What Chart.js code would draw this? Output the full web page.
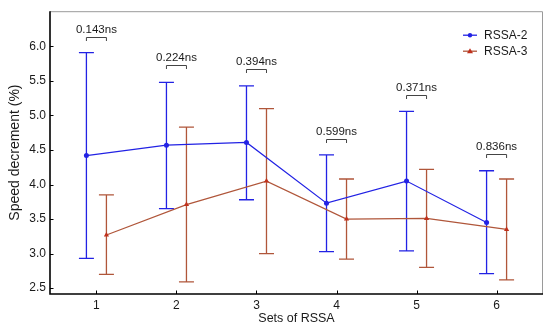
<!DOCTYPE html>
<html>
<head>
<meta charset="utf-8">
<script src="https://cdn.jsdelivr.net/npm/chart.js@4/dist/chart.umd.min.js"></script>
<style>
  html, body { margin: 0; padding: 0; background: #fff; }
  #wrap { width: 550px; height: 330px; }
</style>
</head>
<body>
<div id="wrap"><canvas id="speedChart" width="550" height="330"></canvas></div>
<script>
// data
let sets = [1, 2, 3, 4, 5, 6];
let rssa2Mean = [4.42, 4.57, 4.61, 3.73, 4.05, 3.45];
let rssa2Upper = [5.91, 5.48, 5.43, 4.43, 5.06, 4.20];
let rssa2Lower = [2.93, 3.65, 3.78, 3.03, 3.04, 2.71];
let rssa3Mean = [3.27, 3.71, 4.05, 3.50, 3.51, 3.35];
let rssa3Upper = [3.85, 4.83, 5.10, 4.08, 4.22, 4.08];
let rssa3Lower = [2.70, 2.59, 3.00, 2.92, 2.80, 2.62];
let pLabels = ["0.143ns", "0.224ns", "0.394ns", "0.599ns", "0.371ns", "0.836ns"];
let bracketY = [6.14, 5.73, 5.67, 4.66, 5.29, 4.44];
let yTicks = [2.5, 3.0, 3.5, 4.0, 4.5, 5.0, 5.5, 6.0];
let xTicks = [1, 2, 3, 4, 5, 6];

const shift = 0.125;
const blue = "#2222e4";
const brown = "#b0563a";
const brownMark = "#c0301c";
const textColor = "#1a1a1a";
const fontFam = "'Liberation Sans', Arial, sans-serif";

let ds2 = sets.map((s, i) => ({ x: s - shift, y: rssa2Mean[i], hi: rssa2Upper[i], lo: rssa2Lower[i] }));
let ds3 = sets.map((s, i) => ({ x: s + shift, y: rssa3Mean[i], hi: rssa3Upper[i], lo: rssa3Lower[i] }));

// error bars, under the lines
const errorBars = {
  id: "errorBars",
  beforeDatasetsDraw(chart) {
    let ctx = chart.ctx;
    let xs = chart.scales.x, ys = chart.scales.y;
    ctx.save();
    chart.data.datasets.forEach((d) => {
      ctx.strokeStyle = d.borderColor;
      ctx.lineWidth = 1.3;
      d.data.forEach((p) => {
        let px = xs.getPixelForValue(p.x);
        let top = ys.getPixelForValue(p.hi);
        let bot = ys.getPixelForValue(p.lo);
        ctx.beginPath();
        ctx.moveTo(px, top); ctx.lineTo(px, bot);
        ctx.moveTo(px - 7.5, top); ctx.lineTo(px + 7.5, top);
        ctx.moveTo(px - 7.5, bot); ctx.lineTo(px + 7.5, bot);
        ctx.stroke();
      });
    });
    ctx.restore();
  },
};

// frame, inward ticks, p-value brackets, legend
const decorations = {
  id: "decorations",
  afterDraw(chart) {
    let ctx = chart.ctx;
    let a = chart.chartArea;
    let xs = chart.scales.x, ys = chart.scales.y;
    ctx.save();

    ctx.strokeStyle = "#9a9a9a";
    ctx.lineWidth = 1;
    ctx.beginPath();
    ctx.moveTo(a.left, a.top + 0.5); ctx.lineTo(a.right - 0.5, a.top + 0.5);
    ctx.lineTo(a.right - 0.5, a.bottom);
    ctx.stroke();

    ctx.strokeStyle = "#000";
    ctx.lineWidth = 1.6;
    ctx.beginPath();
    ctx.moveTo(a.left, a.top); ctx.lineTo(a.left, a.bottom); ctx.lineTo(a.right, a.bottom);
    ctx.stroke();

    ctx.lineWidth = 1;
    ctx.beginPath();
    yTicks.forEach((v) => {
      let py = Math.round(ys.getPixelForValue(v)) + 0.5;
      ctx.moveTo(a.left, py); ctx.lineTo(a.left + 3.5, py);
    });
    xTicks.forEach((v) => {
      let px = Math.round(xs.getPixelForValue(v)) + 0.5;
      ctx.moveTo(px, a.bottom); ctx.lineTo(px, a.bottom - 3.5);
    });
    ctx.stroke();

    ctx.strokeStyle = "#444";
    ctx.fillStyle = textColor;
    ctx.font = "11.5px " + fontFam;
    ctx.textAlign = "center";
    ctx.textBaseline = "middle";
    sets.forEach((s, i) => {
      let x1 = xs.getPixelForValue(s - shift);
      let x2 = xs.getPixelForValue(s + shift);
      let py = Math.round(ys.getPixelForValue(bracketY[i])) + 0.5;
      ctx.beginPath();
      ctx.moveTo(x1, py + 3.5); ctx.lineTo(x1, py); ctx.lineTo(x2, py); ctx.lineTo(x2, py + 3.5);
      ctx.stroke();
      ctx.fillText(pLabels[i], xs.getPixelForValue(s), py - 7.5);
    });

    // legend in the upper right corner
    ctx.font = "12px " + fontFam;
    ctx.textAlign = "left";
    let rows = [
      { label: "RSSA-2", color: blue, mark: blue, style: "circle", y: a.top + 24 },
      { label: "RSSA-3", color: brown, mark: brownMark, style: "triangle", y: a.top + 40 },
    ];
    rows.forEach((r) => {
      let lx = a.right - 80;
      ctx.strokeStyle = r.color;
      ctx.fillStyle = r.mark;
      ctx.lineWidth = 1.3;
      ctx.beginPath();
      ctx.moveTo(lx, r.y); ctx.lineTo(lx + 14, r.y);
      ctx.stroke();
      ctx.beginPath();
      if (r.style === "circle") {
        ctx.arc(lx + 7, r.y, 2.2, 0, Math.PI * 2);
      } else {
        ctx.moveTo(lx + 7, r.y - 3); ctx.lineTo(lx + 10, r.y + 2); ctx.lineTo(lx + 4, r.y + 2);
        ctx.closePath();
      }
      ctx.fill();
      ctx.fillStyle = textColor;
      ctx.fillText(r.label, lx + 21, r.y + 0.5);
    });

    ctx.restore();
  },
};

let ctx = document.getElementById("speedChart").getContext("2d");
let speedChart = new Chart(ctx, {
  type: "line",
  data: {
    datasets: [
      {
        label: "RSSA-2",
        data: ds2,
        borderColor: blue,
        backgroundColor: blue,
        borderWidth: 1.2,
        pointStyle: "circle",
        pointRadius: 2.5,
        pointBorderWidth: 0,
      },
      {
        label: "RSSA-3",
        data: ds3,
        borderColor: brown,
        backgroundColor: brownMark,
        borderWidth: 1.2,
        pointStyle: "triangle",
        pointRadius: 3,
        pointBorderWidth: 0,
      },
    ],
  },
  options: {
    responsive: false,
    animation: false,
    layout: { padding: { top: 7, right: 7, left: 0, bottom: 0 } },
    plugins: { legend: { display: false }, tooltip: { enabled: false } },
    scales: {
      x: {
        type: "linear",
        min: 0.42,
        max: 6.58,
        grid: { display: false, drawTicks: false },
        border: { display: false },
        afterBuildTicks: (scale) => { scale.ticks = xTicks.map((v) => ({ value: v })); },
        afterFit: (scale) => { scale.height = 36; },
        ticks: { padding: 4, color: textColor, font: { size: 12, family: fontFam } },
        title: {
          display: true,
          text: "Sets of RSSA",
          color: textColor,
          font: { size: 12.5, family: fontFam },
          padding: { top: 0, bottom: 4 },
        },
      },
      y: {
        min: 2.415,
        max: 6.51,
        grid: { display: false, drawTicks: false },
        border: { display: false },
        afterBuildTicks: (scale) => { scale.ticks = yTicks.map((v) => ({ value: v })); },
        afterFit: (scale) => { scale.width = 50; },
        ticks: {
          padding: 4,
          color: textColor,
          font: { size: 12, family: fontFam },
          callback: (v) => v.toFixed(1),
        },
        title: {
          display: true,
          text: "Speed decrement (%)",
          color: textColor,
          font: { size: 14, family: fontFam },
          padding: { top: 7, bottom: 0 },
        },
      },
    },
  },
  plugins: [errorBars, decorations],
});
</script>
</body>
</html>
